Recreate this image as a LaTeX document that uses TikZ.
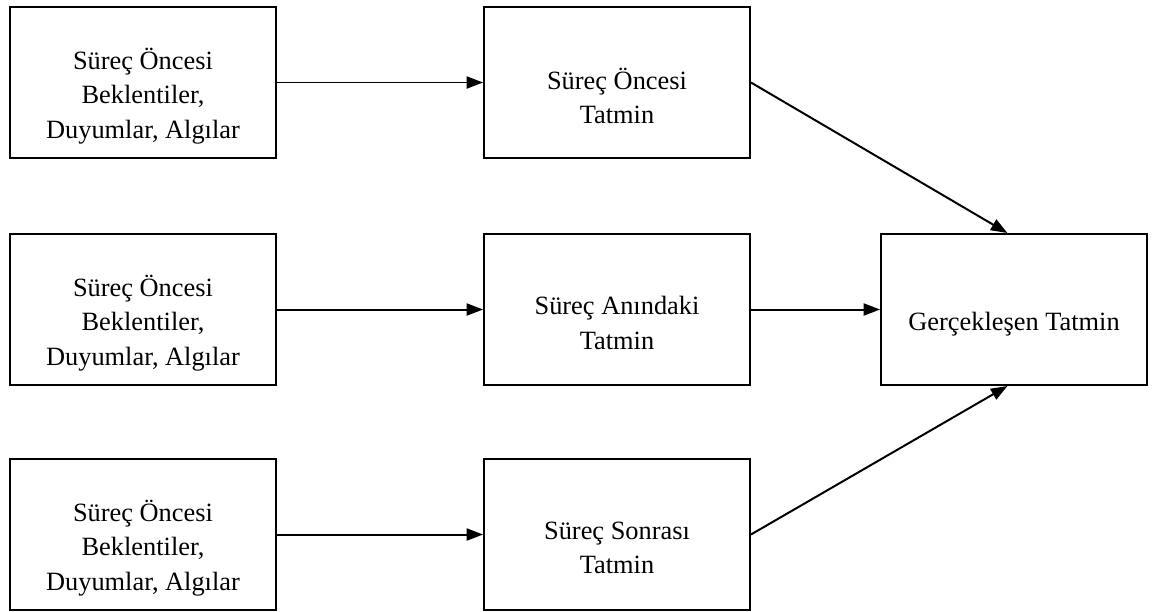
\documentclass[tikz,border=0pt]{standalone}
\usepackage{fontspec}
\setmainfont{Liberation Serif}
\usetikzlibrary{arrows.meta}
\tikzset{
  kutu/.style={draw, line width=0.9pt, minimum width=121pt, minimum height=68.7pt, inner sep=0pt},
  yazi/.style={align=center, font=\fontsize{12}{15.7}\selectfont},
  ok/.style={line width=0.9pt, -{Triangle[length=7.5pt,width=5.5pt]}}
}
\begin{document}
\begin{tikzpicture}[x=0.455pt, y=-0.455pt]
\useasboundingbox (0,0) rectangle (1158,611);
% sol sutun
\node[kutu] (b1) at (143,82.5) {};
\node[kutu] (b2) at (143,309.5) {};
\node[kutu] (b3) at (143,534.5) {};
% orta sutun
\node[kutu] (t1) at (617,82.5) {};
\node[kutu] (t2) at (617,309.5) {};
\node[kutu] (t3) at (617,534.5) {};
% sag kutu
\node[kutu] (gt) at (1014,309.5) {};
% yazilar
\node[yazi] (yb1) at (143,96) {Süreç Öncesi\\Beklentiler,\\Duyumlar, Algılar};
\node[yazi] (yb2) at (143,323) {Süreç Öncesi\\Beklentiler,\\Duyumlar, Algılar};
\node[yazi] (yb3) at (143,548) {Süreç Öncesi\\Beklentiler,\\Duyumlar, Algılar};
\node[yazi] (yt1) at (617,96) {Süreç Öncesi\\Tatmin};
\node[yazi] (yt2) at (617,323) {Süreç Anındaki\\Tatmin};
\node[yazi] (yt3) at (617,548) {Süreç Sonrası\\Tatmin};
\node[yazi] (ygt) at (1014,324) {Gerçekleşen Tatmin};
% oklar
\draw[ok] (b1) -- (t1);
\draw[ok] (b2) -- (t2);
\draw[ok] (b3) -- (t3);
\draw[ok] (t1.east) -- ([xshift=-3pt]gt.north);
\draw[ok] (t2) -- (gt);
\draw[ok] (t3.east) -- ([xshift=-3pt]gt.south);
\end{tikzpicture}
\end{document}
